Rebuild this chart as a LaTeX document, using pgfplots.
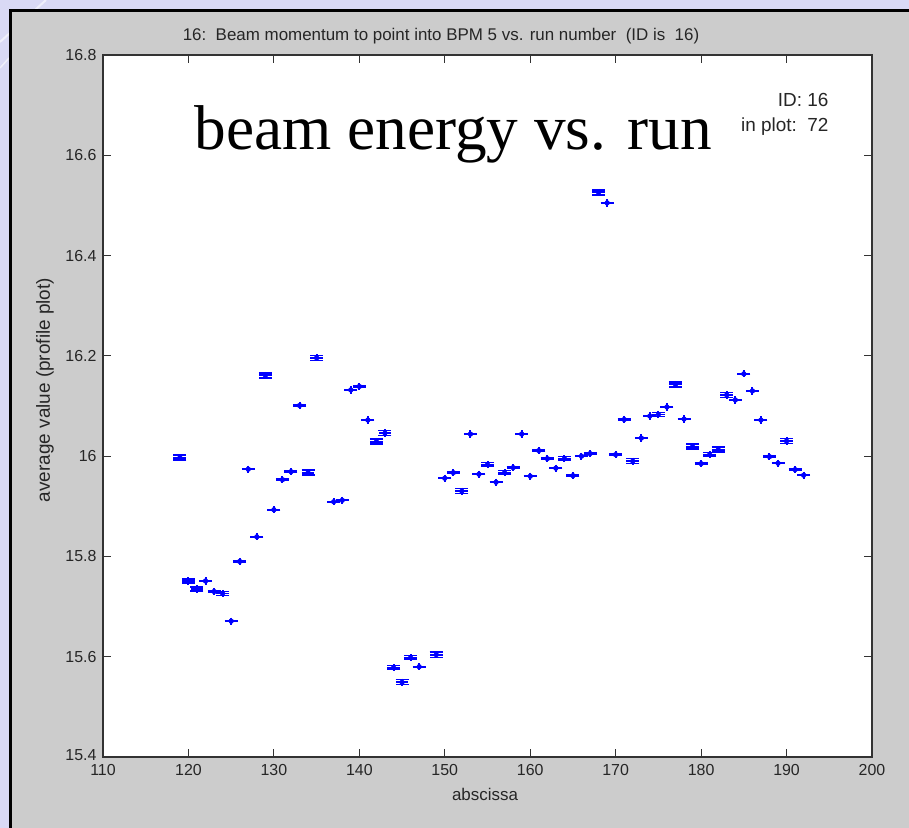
\documentclass[border=0pt]{standalone}
\usepackage{fontspec}
\setmainfont{Liberation Sans}
\newfontfamily\timesfont{Liberation Serif}
\usepackage{pgfplots}
\usepackage{pgfplotstable}
\pgfplotsset{compat=1.18}
\definecolor{lav}{RGB}{217,217,245}
\definecolor{panel}{RGB}{204,204,204}
\pgfplotstableread{
x y ey
119 15.997 0.005
120 15.751 0.004
121 15.735 0.004
122 15.751 0.001
123 15.730 0.001
124 15.726 0.004
125 15.671 0.001
126 15.790 0.001
127 15.974 0.001
128 15.839 0.001
129 16.161 0.005
130 15.893 0.001
131 15.953 0.001
132 15.969 0.001
133 16.101 0.001
134 15.967 0.005
135 16.196 0.005
137 15.909 0.001
138 15.912 0.001
139 16.132 0.001
140 16.139 0.001
141 16.072 0.001
142 16.029 0.005
143 16.046 0.005
144 15.578 0.004
145 15.549 0.005
146 15.598 0.004
147 15.580 0.001
149 15.604 0.005
150 15.956 0.001
151 15.967 0.001
152 15.930 0.005
153 16.044 0.001
154 15.964 0.001
155 15.983 0.004
156 15.948 0.001
157 15.967 0.004
158 15.977 0.001
159 16.044 0.001
160 15.960 0.001
161 16.011 0.001
162 15.995 0.001
163 15.976 0.001
164 15.995 0.004
165 15.961 0.001
166 16.000 0.001
167 16.005 0.001
168 16.526 0.005
169 16.505 0.001
170 16.003 0.001
171 16.073 0.001
172 15.990 0.005
173 16.036 0.001
174 16.080 0.001
175 16.083 0.004
176 16.098 0.001
177 16.143 0.005
178 16.074 0.001
179 16.019 0.005
180 15.985 0.001
181 16.003 0.004
182 16.013 0.005
183 16.122 0.005
184 16.112 0.001
185 16.164 0.001
186 16.130 0.001
187 16.072 0.001
188 15.999 0.001
189 15.986 0.001
190 16.030 0.005
191 15.973 0.001
192 15.962 0.001
}\data
\begin{document}
\begin{tikzpicture}[x=1bp,y=1bp]
\useasboundingbox (0,0) rectangle (909,828);
\fill[lav] (0,0) rectangle (909,828);
\draw[white, line width=2bp, opacity=0.6] (0,786) -- (46,828);
\draw[white, line width=1.5bp, opacity=0.6] (0,760) -- (9,770);
\fill[panel] (9,0) rectangle (909,819);
\draw[black, line width=3bp] (10.5,0) -- (10.5,817.5) -- (909,817.5);
\begin{axis}[
  at={(103bp,71bp)}, anchor=south west,
  scale only axis, width=769bp, height=702bp,
  xmin=110, xmax=200, ymin=15.4, ymax=16.8,
  xtick={110,120,130,140,150,160,170,180,190,200},
  ytick={15.4,15.6,15.8,16.0,16.2,16.4,16.6,16.8},
  yticklabels={\raisebox{4bp}{15.4},15.6,15.8,16,16.2,16.4,16.6,16.8},
  tick align=inside, tick pos=both, major tick length=8bp,
  axis background/.style={fill=white},
  axis line style={line width=1.2bp, black!80},
  every tick/.style={line width=1bp, black!80},
  ticklabel style={font=\fontsize{16}{18}\selectfont, text=black!85},
  /pgf/number format/assume math mode=true,
  /pgf/number format/1000 sep={},
  xticklabel style={yshift=-4bp},
  yticklabel style={xshift=-3bp},
  clip=false,
]
\addplot[blue, draw=none, mark=none,
  error bars/.cd, x dir=both, x fixed=0.75, error mark=none,
  error bar style={line width=1.9bp, blue}]
  table[x=x, y=y] {\data};
\addplot[blue, draw=none, mark=none,
  error bars/.cd, y dir=both, y explicit, error mark=-,
  error bar style={line width=1.2bp, blue},
  error mark options={line width=1.4bp, blue, mark size=6.5bp, rotate=90}]
  table[x=x, y=y, y error=ey] {\data};
\addplot[blue, only marks, mark=|, mark size=3.6bp, mark options={line width=2bp}]
  table[x=x, y=y] {\data};
\addplot[blue, only marks, mark=*, mark size=2.4bp]
  table[x=x, y=y] {\data};
\end{axis}
\node[anchor=base, font=\fontsize{17}{20}\selectfont, text=black!85] at (441,787) {16:\ \ Beam momentum to point into BPM 5 vs. run number\ \ (ID is\ \ 16)};
\node[anchor=base, font=\fontsize{17}{20}\selectfont, text=black!85] at (485,27) {abscissa};
\node[anchor=center, rotate=90, font=\fontsize{19}{22}\selectfont, text=black!85] at (45,438) {average value (profile plot)};
\node[anchor=base east, font=\fontsize{19}{22}\selectfont, text=black!85] at (832,721) {ID: 16};
\node[anchor=base east, font=\fontsize{19}{22}\selectfont, text=black!85] at (832,696) {in plot:\ \ 72};
\node[anchor=base west, font=\timesfont\fontsize{63.5}{70}\selectfont] at (191,678) {beam energy vs. run};
\end{tikzpicture}
\end{document}
